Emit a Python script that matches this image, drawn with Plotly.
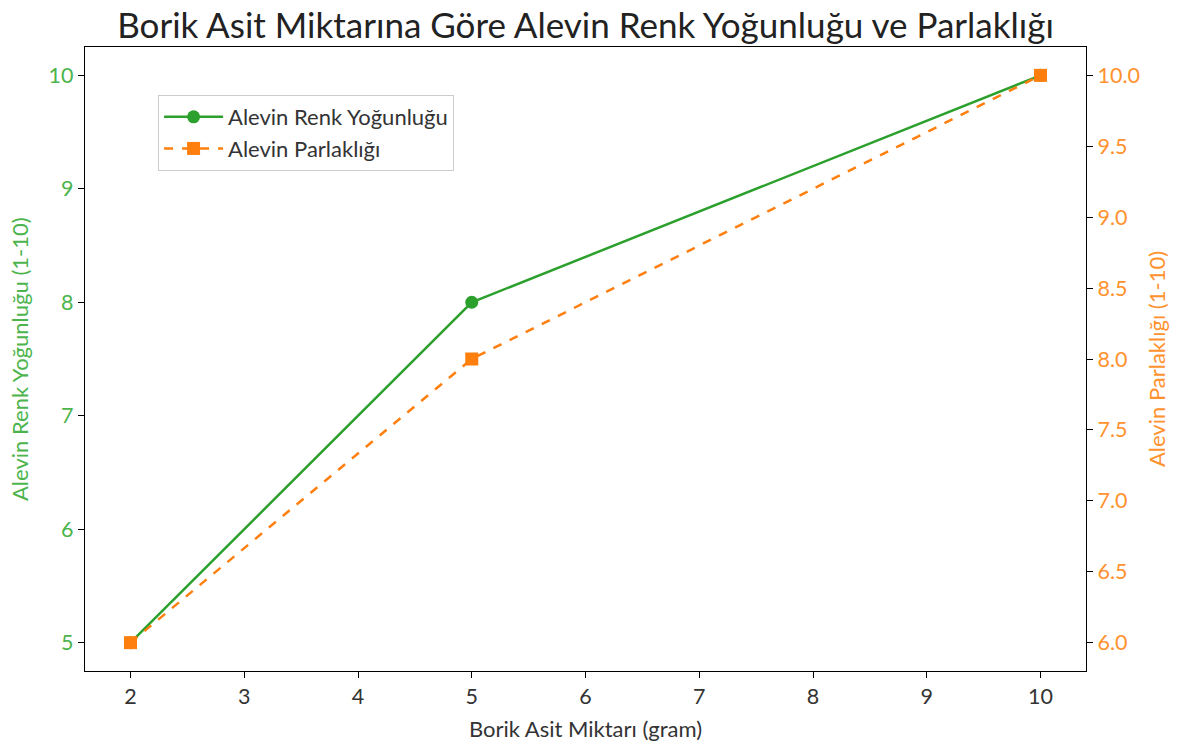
import plotly.graph_objects as go

boric_acid = [2, 5, 10]
color_intensity = [5, 8, 10]
brightness = [6, 8, 10]

x_ticks = [2, 3, 4, 5, 6, 7, 8, 9, 10]
left_ticks = [5, 6, 7, 8, 9, 10]
right_ticks = [6.0, 6.5, 7.0, 7.5, 8.0, 8.5, 9.0, 9.5, 10.0]

GREEN = "#2ca02c"
ORANGE = "#ff7f0e"
GREEN_TXT = "#4cb44c"
ORANGE_TXT = "#ff922e"
FONT = "Lato"
FS = 22
TFS = 21.5

fig = go.Figure()
fig.add_trace(go.Scatter(
    x=boric_acid, y=color_intensity, name="Alevin Renk Yoğunluğu",
    mode="lines+markers", line=dict(color=GREEN, width=2.5),
    marker=dict(symbol="circle", size=13, color=GREEN), yaxis="y"))
fig.add_trace(go.Scatter(
    x=boric_acid, y=brightness, name="Alevin Parlaklığı",
    mode="lines+markers", line=dict(color=ORANGE, width=2.5, dash="dash"),
    marker=dict(symbol="square", size=13, color=ORANGE), yaxis="y2"))

axis_common = dict(showgrid=False, zeroline=False, showline=True, linecolor="black",
                   linewidth=1.3, ticks="outside", ticklen=6, tickcolor="black",
                   tickwidth=1.3, automargin=False)

fig.update_layout(
    width=1180, height=745,
    margin=dict(l=77, r=102, t=39, b=82),
    plot_bgcolor="white", paper_bgcolor="white",
    font=dict(family=FONT, size=FS, color="#333333"),
    title=dict(text="Borik Asit Miktarına Göre Alevin Renk Yoğunluğu ve Parlaklığı",
               xref="paper", x=0.5, xanchor="center", y=0.976, yanchor="middle",
               font=dict(family=FONT, size=35, color="#222222")),
    xaxis=dict(**axis_common, range=[1.6, 10.4], tickvals=x_ticks, mirror=True,
               title=dict(text="Borik Asit Miktarı (gram)", standoff=13,
                          font=dict(size=FS, color="#333333")),
               tickfont=dict(size=TFS, color="#333333")),
    yaxis=dict(**axis_common, range=[4.75, 10.25], tickvals=left_ticks,
               tickfont=dict(size=TFS, color=GREEN_TXT)),
    yaxis2=dict(**axis_common, range=[5.8, 10.2], tickvals=right_ticks,
                tickformat=".1f", overlaying="y", side="right",
                title=dict(text="Alevin Parlaklığı (1-10)", standoff=10,
                           font=dict(size=FS, color=ORANGE_TXT)),
                tickfont=dict(size=TFS, color=ORANGE_TXT)),
    legend=dict(x=0.073, y=0.923, xanchor="left", yanchor="top",
                bgcolor="white", bordercolor="#cccccc", borderwidth=1,
                font=dict(size=FS, color="#333333"), itemwidth=59),
    showlegend=True,
)

fig.add_annotation(
    text="Alevin Renk Yoğunluğu (1-10)", textangle=-90,
    xref="paper", yref="paper", x=0, y=0.5, xshift=-66,
    xanchor="center", yanchor="middle", showarrow=False,
    font=dict(family=FONT, size=FS, color=GREEN_TXT))

fig.write_html("out.html")
